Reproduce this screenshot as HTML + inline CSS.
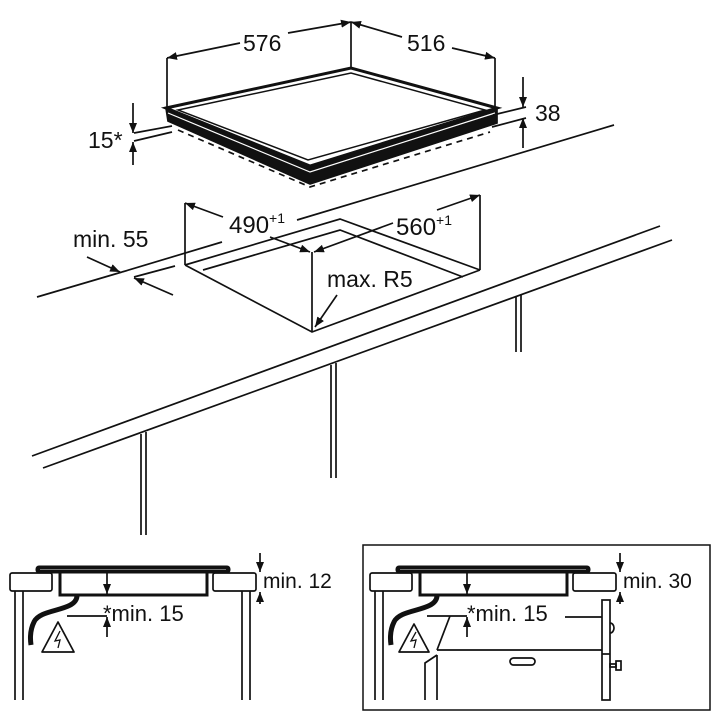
<!DOCTYPE html>
<html><head><meta charset="utf-8"><style>
html,body{margin:0;padding:0;background:#fff;}
svg{display:block;}
text{font-family:"Liberation Sans",sans-serif;fill:#111;}
</style></head><body>
<svg width="720" height="720" viewBox="0 0 720 720" xmlns="http://www.w3.org/2000/svg">
<defs>
<marker id="a" viewBox="0 0 10 8" refX="10" refY="4" markerWidth="10" markerHeight="8" markerUnits="userSpaceOnUse" orient="auto"><path d="M0,0 L10,4 L0,8 z" fill="#111"/></marker>
</defs>
<g stroke="#111" fill="none" stroke-width="1.7">
<!-- TOP HOB -->
<polygon points="166,108 310,166 497,108 497,123 310,184 168,121" fill="#111" stroke="#111"/>
<polyline points="168,113 310,172 495,113" stroke="#fff" stroke-width="1.2"/>
<polygon points="166,108 351,68 497,108 310,166" fill="#fff" stroke-width="3"/>
<polygon points="178,110 351,73 485,110 308,160" stroke-width="1.5"/>
<polyline points="178,130 310,187 490,132" stroke-dasharray="6,5"/>
<!-- 576 / 516 -->
<line x1="167" y1="58" x2="167" y2="108"/>
<line x1="351" y1="22" x2="351" y2="68"/>
<line x1="495" y1="58" x2="495" y2="108"/>
<line x1="240" y1="43" x2="167" y2="58" marker-end="url(#a)"/>
<line x1="288" y1="33" x2="351" y2="22" marker-end="url(#a)"/>
<line x1="402" y1="37" x2="351" y2="22" marker-end="url(#a)"/>
<line x1="452" y1="48" x2="495" y2="58" marker-end="url(#a)"/>
<!-- 38 -->
<line x1="523" y1="77" x2="523" y2="107" marker-end="url(#a)"/>
<line x1="523" y1="148" x2="523" y2="118" marker-end="url(#a)"/>
<line x1="493" y1="115" x2="526" y2="107"/>
<line x1="492" y1="127" x2="526" y2="118"/>
<!-- 15* -->
<line x1="133" y1="103" x2="133" y2="133" marker-end="url(#a)"/>
<line x1="133" y1="165" x2="133" y2="142" marker-end="url(#a)"/>
<line x1="134" y1="133" x2="172" y2="126"/>
<line x1="134" y1="141" x2="172" y2="132"/>
<!-- COUNTER -->
<line x1="37" y1="297" x2="122" y2="272"/>
<line x1="122" y1="272" x2="222" y2="242"/>
<line x1="297" y1="220" x2="614" y2="125"/>
<line x1="32" y1="456" x2="660" y2="226"/>
<line x1="43" y1="468" x2="672" y2="240"/>
<line x1="141" y1="434" x2="141" y2="535"/><line x1="146" y1="432" x2="146" y2="535"/>
<line x1="331" y1="365" x2="331" y2="478"/><line x1="336" y1="363" x2="336" y2="478"/>
<line x1="516" y1="297" x2="516" y2="352"/><line x1="521" y1="295" x2="521" y2="352"/>
<!-- cutout -->
<polyline points="185,265 340,219 480,270"/>
<polyline points="203,270 340,230 463,277"/>
<polyline points="185,265 312,332 480,270"/>
<line x1="312" y1="252" x2="312" y2="332"/>
<line x1="185" y1="203" x2="185" y2="265"/>
<line x1="480" y1="195" x2="480" y2="270"/>
<line x1="223" y1="217" x2="185" y2="203" marker-end="url(#a)"/>
<line x1="270" y1="237" x2="310" y2="252" marker-end="url(#a)"/>
<line x1="393" y1="223" x2="314" y2="252" marker-end="url(#a)"/>
<line x1="437" y1="210" x2="480" y2="195" marker-end="url(#a)"/>
<line x1="87" y1="257" x2="120" y2="272" marker-end="url(#a)"/>
<line x1="173" y1="295" x2="134" y2="278" marker-end="url(#a)"/>
<line x1="134" y1="277" x2="175" y2="266"/>
<line x1="337" y1="295" x2="315" y2="327" marker-end="url(#a)"/>
<!-- LEFT PANEL -->
<rect x="10" y="573" width="42" height="18" rx="2"/>
<rect x="213" y="573" width="43" height="18" rx="2"/>
<rect x="36" y="566" width="194" height="7" rx="3" fill="#111" stroke-width="1"/>
<line x1="40" y1="569.5" x2="226" y2="569.5" stroke="#777" stroke-width="1"/>
<polyline points="60,573 60,595 207,595 207,573" stroke-width="3"/>
<line x1="107" y1="573" x2="107" y2="594" marker-end="url(#a)"/>
<line x1="107" y1="637" x2="107" y2="617" marker-end="url(#a)"/>
<line x1="67" y1="616" x2="107" y2="616"/>
<path d="M77,596 C76,612 40,608 34,622 C30,630 30,638 31,645" stroke-width="5"/>
<polygon points="42,652 58,622 74,652" stroke-linejoin="round"/>
<path d="M60,631 L55,641 L60,640 L58,648" stroke-width="1.3"/>
<line x1="15" y1="591" x2="15" y2="700"/><line x1="23" y1="591" x2="23" y2="700"/>
<line x1="242" y1="591" x2="242" y2="700"/><line x1="250" y1="591" x2="250" y2="700"/>
<line x1="260" y1="553" x2="260" y2="572" marker-end="url(#a)"/>
<line x1="260" y1="604" x2="260" y2="592" marker-end="url(#a)"/>
<!-- RIGHT PANEL -->
<rect x="363" y="545" width="347" height="165" stroke-width="1.5"/>
<rect x="370" y="573" width="42" height="18" rx="2"/>
<rect x="573" y="573" width="43" height="18" rx="2"/>
<rect x="396" y="566" width="194" height="7" rx="3" fill="#111" stroke-width="1"/>
<line x1="400" y1="569.5" x2="586" y2="569.5" stroke="#777" stroke-width="1"/>
<polyline points="420,573 420,595 567,595 567,573" stroke-width="3"/>
<line x1="467" y1="573" x2="467" y2="594" marker-end="url(#a)"/>
<line x1="467" y1="637" x2="467" y2="617" marker-end="url(#a)"/>
<line x1="427" y1="616" x2="467" y2="616"/>
<line x1="565" y1="617" x2="602" y2="617"/>
<path d="M437,596 C436,612 400,608 394,622 C390,630 390,638 391,645" stroke-width="5"/>
<polygon points="399,652 414,624 429,652" stroke-linejoin="round"/>
<path d="M416,632 L411,641 L416,640 L414,648" stroke-width="1.3"/>
<line x1="375" y1="591" x2="375" y2="700"/><line x1="383" y1="591" x2="383" y2="700"/>
<line x1="450" y1="616" x2="437" y2="650"/>
<line x1="437" y1="650" x2="602" y2="650"/>
<polyline points="437,655 425,663 425,700"/>
<line x1="437" y1="655" x2="437" y2="700"/>
<rect x="602" y="600" width="8" height="100"/>
<line x1="602" y1="654" x2="610" y2="654"/>
<path d="M610,623 A4,5 0 0 1 610,633"/>
<rect x="610" y="664" width="6" height="3"/><rect x="616" y="661" width="5" height="9"/>
<rect x="510" y="658" width="25" height="7" rx="3.5"/>
<line x1="620" y1="553" x2="620" y2="572" marker-end="url(#a)"/>
<line x1="620" y1="604" x2="620" y2="592" marker-end="url(#a)"/>
</g>
<g font-size="23">
<text x="243" y="51">576</text>
<text x="407" y="51">516</text>
<text x="535" y="121">38</text>
<text x="88" y="148">15*</text>
<text x="229" y="233" font-size="24">490<tspan font-size="14" dy="-10">+1</tspan></text>
<text x="396" y="235" font-size="24">560<tspan font-size="14" dy="-10">+1</tspan></text>
<text x="73" y="247">min. 55</text>
<text x="327" y="287">max. R5</text>
<text x="263" y="588" font-size="21">min. 12</text>
<text x="103" y="621" font-size="22">*min. 15</text>
<text x="623" y="588" font-size="21">min. 30</text>
<text x="467" y="621" font-size="22">*min. 15</text>
</g>
</svg>
</body></html>
